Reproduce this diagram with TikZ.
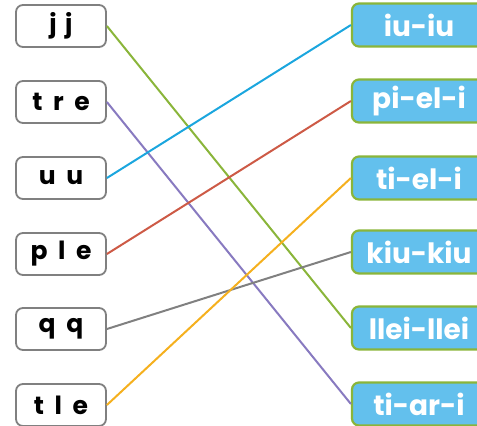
\documentclass[tikz,border=0pt]{standalone}
\usepackage{fontspec}
\setmainfont{Poppins}[BoldFont={Poppins Bold}]
\usepackage{tikz}
\usetikzlibrary{positioning}
\definecolor{wordgreen}{RGB}{138,181,58}
\definecolor{wordblue}{RGB}{99,192,237}
\definecolor{boxgray}{RGB}{128,128,128}
\definecolor{linecyan}{RGB}{27,166,222}
\definecolor{linered}{RGB}{205,90,70}
\definecolor{lineorange}{RGB}{245,176,30}
\definecolor{linepurple}{RGB}{136,122,192}
\definecolor{linegray}{RGB}{128,128,128}
\begin{document}
\begin{tikzpicture}[x=1pt,y=-1pt,
    syll/.style={draw=boxgray, line width=1.8pt, fill=white, rounded corners=7pt,
                 minimum width=90pt, minimum height=42pt, inner sep=0pt,
                 font=\fontsize{25}{25}\selectfont\bfseries},
    word/.style={draw=wordgreen, line width=2.2pt, fill=wordblue, rounded corners=7pt,
                 minimum width=134pt, minimum height=43pt, inner sep=0pt, text=white,
                 font=\fontsize{28}{28}\selectfont\bfseries},
    link/.style={line width=2pt}]
  \clip (0,0) rectangle (477,426);
  \useasboundingbox (0,0) rectangle (477,426);
  % left syllables
  \node[syll] (jj)  at (61,26)  {j\,\,j};
  \node[syll] (tre) at (61,102) {t\ \ r\ \ e};
  \node[syll] (uu)  at (61,178) {u\ \ u};
  \node[syll] (ple) at (61,254) {p\ \ l\ \ e};
  \node[syll] (qq)  at (61,329) {q\ \ q};
  \node[syll] (tle) at (61,405) {t\ \ l\ \ e};
  % right words
  \node[word] (iuiu)   at (419,25)  {iu-iu};
  \node[word] (pieli)  at (419,101) {pi-el-i};
  \node[word] (tieli)  at (419,178) {ti-el-i};
  \node[word] (kiukiu) at (419,252) {kiu-kiu};
  \node[word] (lleil)  at (419,328) {llei-llei};
  \node[word] (tiari)  at (419,404) {ti-ar-i};
  % matching lines
  \draw[link, wordgreen]  (jj.east)  -- (lleil.west);
  \draw[link, linepurple] (tre.east) -- (tiari.west);
  \draw[link, linecyan]   (uu.east)  -- (iuiu.west);
  \draw[link, linered]    (ple.east) -- (pieli.west);
  \draw[link, linegray]   (qq.east)  -- (kiukiu.west);
  \draw[link, lineorange] (tle.east) -- (tieli.west);
\end{tikzpicture}
\end{document}
